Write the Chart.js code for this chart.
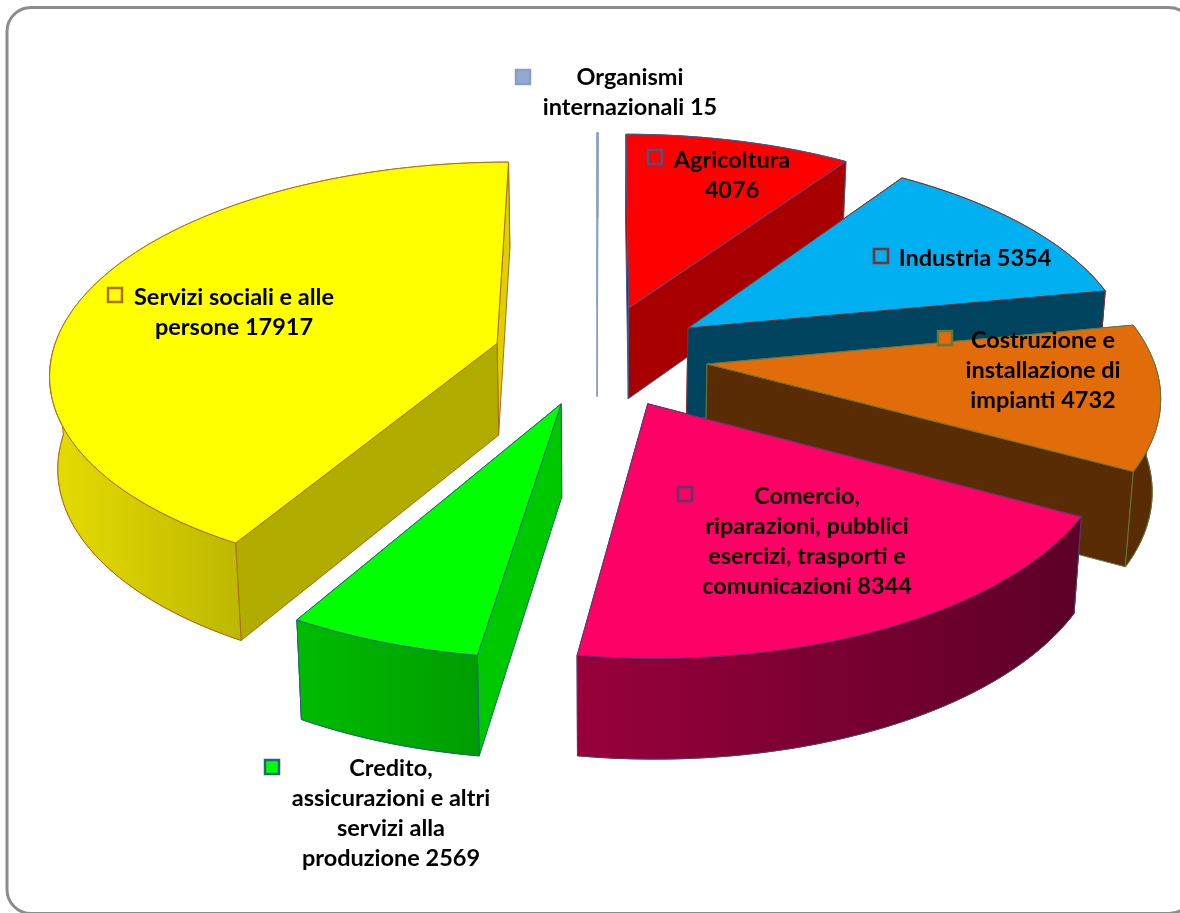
<!DOCTYPE html>
<html>
<head>
<meta charset="utf-8">
<title>Occupati per settore</title>
<script src="https://cdn.jsdelivr.net/npm/chart.js@4"></script>
<style>
    html, body { margin: 0; padding: 0; background: #fff; }
    #wrap { position: relative; width: 1180px; height: 913px; overflow: hidden; }
</style>
</head>
<body>
<div id="wrap"><canvas id="myPieChart" width="1180" height="913"></canvas></div>
<script>
// ===================== data =======================================
// "\n" marks a line break of the label, a trailing one puts the value on its own line
var categories = [
    "Organismi\ninternazionali",
    "Agricoltura\n",
    "Industria",
    "Costruzione e\ninstallazione di\nimpianti",
    "Comercio,\nriparazioni, pubblici\nesercizi, trasporti e\ncomunicazioni",
    "Credito,\nassicurazioni e altri\nservizi alla\nproduzione",
    "Servizi sociali e alle\npersone"
];
var values = [15, 4076, 5354, 4732, 8344, 2569, 17917];

// ===================== styles =====================================
var topColors = ["#95A9D0", "#FF0000", "#00B0F0", "#E26B0A", "#FF0066", "#00FF00", "#FFFF00"];
var edgeColors = ["#8A9CC8", "#3F5A8A", "#7F2F2F", "#5E7A3C", "#5A3A6A", "#206878", "#B06A20"];
var startWalls = ["#8A9CC8", "#A80000", "#00445F", "#592C06", "#660028", "#00C800", "#B0AC00"];
var endWalls = ["#8A9CC8", "#A80000", "#00445F", "#592C06", "#660028", "#00C800", "#E0D000"];
var outerLeft = ["#8A9CC8", "#A80000", "#00445F", "#592C06", "#99003C", "#00BC00", "#E6DC00"];
var outerRight = ["#8A9CC8", "#A80000", "#00445F", "#592C06", "#5C0028", "#009C00", "#BDB800"];
var explode = [101, 101, 101, 101, 101, 96, 95];

// label block centre x, first line y, marker centre x,y
var labelPos = [
    { x: 630, y: 77, mx: 523, my: 77 },
    { x: 732, y: 160, mx: 655, my: 157 },
    { x: 975, y: 258, mx: 881, my: 256 },
    { x: 1043, y: 340, mx: 945, my: 338 },
    { x: 807, y: 496, mx: 685, my: 494 },
    { x: 391, y: 768, mx: 272, my: 767 },
    { x: 234, y: 297, mx: 115, my: 295 }
];
var lineHeight = 30.3;

// perspective of the pie plane
var centerX = 597, centerY = 356;
var stretchX = 1.097, squash = 0.467, tilt = 0.13, depth = 92, shrink = 0.015;

function project(arc, mid, off, radius, a, h) {
    var r = arc.outerRadius;
    var u = radius * Math.cos(a) + off / r * Math.cos(mid);
    var v = radius * Math.sin(a) + off / r * Math.sin(mid);
    var s = 1 / (1 - tilt * v);
    return {
        x: centerX + r * stretchX * u * s * (1 - shrink * h),
        y: centerY + r * stretchX * squash * v * s + depth * h * (0.5 + 0.5 * s)
    };
}

function fillPoly(ctx, pts, fill, stroke) {
    ctx.beginPath();
    pts.forEach(function (p, i) {
        if (i == 0) ctx.moveTo(p.x, p.y);
        else ctx.lineTo(p.x, p.y);
    });
    ctx.closePath();
    ctx.fillStyle = fill;
    ctx.fill();
    ctx.lineWidth = 1;
    ctx.strokeStyle = stroke;
    ctx.stroke();
}

function arcPoints(arc, a1, a2, mid, off, h) {
    var pts = [];
    var n = Math.max(2, Math.ceil((a2 - a1) / 0.02));
    for (var i = 0; i <= n; i++) {
        pts.push(project(arc, mid, off, 1, a1 + (a2 - a1) * i / n, h));
    }
    return pts;
}

function outerWall(ctx, arc, a1, a2, mid, off, i) {
    if (a2 <= a1) return;
    var up = arcPoints(arc, a1, a2, mid, off, 0);
    var down = arcPoints(arc, a1, a2, mid, off, 1);
    var xs = up.concat(down).map(function (p) { return p.x; });
    var g = ctx.createLinearGradient(Math.min.apply(null, xs), 0, Math.max.apply(null, xs), 0);
    g.addColorStop(0, outerLeft[i]);
    g.addColorStop(1, outerRight[i]);
    fillPoly(ctx, up.concat(down.reverse()), g, edgeColors[i]);
}

function radialWall(ctx, arc, a, mid, off, color, edge) {
    fillPoly(ctx, [
        project(arc, mid, off, 0, a, 0),
        project(arc, mid, off, 1, a, 0),
        project(arc, mid, off, 1, a, 1),
        project(arc, mid, off, 0, a, 1)
    ], color, edge);
}

function drawSlice(ctx, arc, i) {
    var a1 = arc.startAngle, a2 = arc.endAngle;
    var mid = (a1 + a2) / 2;
    var off = arc.options.offset;

    // back part first, it only peeks out round the silhouette
    outerWall(ctx, arc, a1, a2, mid, off, i);
    // the wall turned away from the viewer goes first
    if (Math.cos(a2) > 0) {
        radialWall(ctx, arc, a1, mid, off, startWalls[i], edgeColors[i]);
        radialWall(ctx, arc, a2, mid, off, endWalls[i], edgeColors[i]);
    } else {
        radialWall(ctx, arc, a2, mid, off, endWalls[i], edgeColors[i]);
        radialWall(ctx, arc, a1, mid, off, startWalls[i], edgeColors[i]);
    }
    // part of the rim that faces the viewer (canvas angle 0..PI)
    outerWall(ctx, arc, Math.max(a1, 0), Math.min(a2, Math.PI), mid, off, i);

    var top = [project(arc, mid, off, 0, a1, 0)].concat(arcPoints(arc, a1, a2, mid, off, 0));
    fillPoly(ctx, top, arc.options.backgroundColor, edgeColors[i]);
}

function labelLines(i) {
    var c = categories[i];
    return (c + (c.slice(-1) == "\n" ? "" : " ") + values[i]).split("\n");
}

var pie3d = {
    id: "pie3d",
    beforeDraw: function (chart) {
        // rounded frame of the picture, runs off to the right and the bottom
        var ctx = chart.ctx;
        ctx.save();
        ctx.fillStyle = "#fff";
        ctx.fillRect(0, 0, 1180, 913);
        ctx.beginPath();
        ctx.roundRect(7, 7.5, 1186, 906, 24);
        ctx.lineWidth = 3;
        ctx.strokeStyle = "#8C8C8C";
        ctx.stroke();
        ctx.restore();
    },
    beforeDatasetDraw: function (chart, args) {
        var ctx = chart.ctx;
        ctx.save();
        args.meta.data.forEach(function (arc, i) {
            drawSlice(ctx, arc, i);
        });
        ctx.restore();
        return false; // slices are done, skip the flat pie
    },
    afterDraw: function (chart) {
        var ctx = chart.ctx;
        ctx.save();
        ctx.font = "bold 23.5px Lato";
        ctx.textAlign = "center";
        ctx.textBaseline = "middle";
        categories.forEach(function (c, i) {
            var pos = labelPos[i];
            ctx.fillStyle = "#000";
            labelLines(i).forEach(function (line, k) {
                ctx.fillText(line, pos.x, pos.y + k * lineHeight);
            });
            ctx.fillStyle = topColors[i];
            ctx.strokeStyle = edgeColors[i];
            ctx.lineWidth = 2.5;
            ctx.fillRect(pos.mx - 7, pos.my - 7, 14, 14);
            ctx.strokeRect(pos.mx - 7, pos.my - 7, 14, 14);
        });
        ctx.restore();
    }
};

new Chart(document.getElementById("myPieChart"), {
    type: "pie",
    data: {
        labels: categories,
        datasets: [{
            data: values,
            backgroundColor: topColors,
            borderColor: edgeColors,
            borderWidth: 0,
            offset: explode
        }]
    },
    options: {
        responsive: false,
        animation: false,
        plugins: {
            legend: { display: false },
            tooltip: { enabled: false }
        }
    },
    plugins: [pie3d]
});
</script>
</body>
</html>
